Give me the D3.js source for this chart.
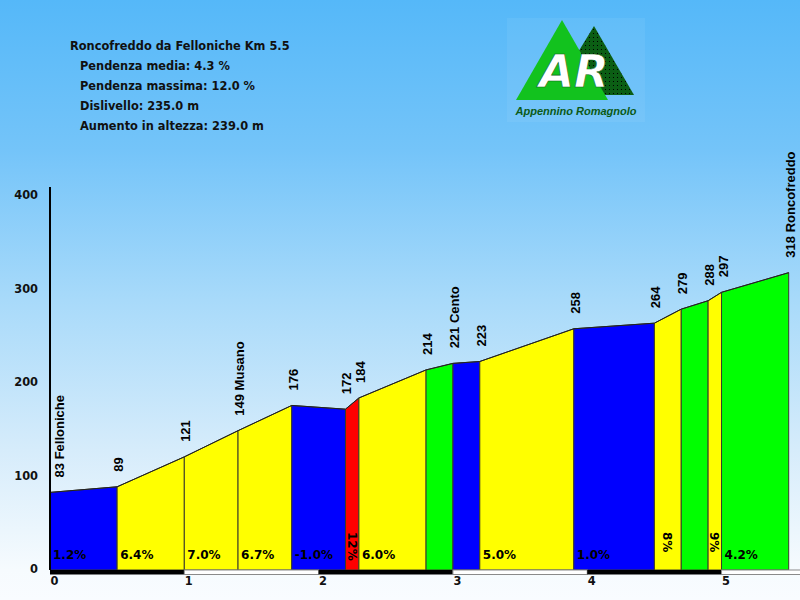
<!DOCTYPE html>
<html>
<head>
<meta charset="utf-8">
<script src="https://cdn.jsdelivr.net/npm/d3@7/dist/d3.min.js"></script>
<style>
html,body{margin:0;padding:0;}
svg{display:block;}
</style>
</head>
<body>
<svg id="chart" width="800" height="600"></svg>
<script>
// ---- data ----
const kmPoints = [0, 0.5, 1.0, 1.4, 1.8, 2.2, 2.3, 2.8, 3.0, 3.2, 3.9, 4.5, 4.7, 4.9, 5.0, 5.5];
const elevations = [83, 89, 121, 149, 176, 172, 184, 214, 221, 223, 258, 264, 279, 288, 297, 318];
const placeNames = ["Felloniche", "", "", "Musano", "", "", "", "", "Cento", "", "", "", "", "", "", "Roncofreddo"];
const segmentColors = ["#0000ff", "#ffff00", "#ffff00", "#ffff00", "#0000ff", "#ff0000", "#ffff00", "#00ff00", "#0000ff", "#ffff00", "#0000ff", "#ffff00", "#00ff00", "#ffff00", "#00ff00"];
const segmentLabels = ["1.2%", "6.4%", "7.0%", "6.7%", "-1.0%", "12%", "6.0%", "", "", "5.0%", "1.0%", "8%", "", "9%", "4.2%"];
const yTicks = [0, 100, 200, 300, 400];
const kmTicks = [0, 1, 2, 3, 4, 5];
const infoLines = [
  "Roncofreddo da Felloniche Km 5.5",
  "Pendenza media: 4.3 %",
  "Pendenza massima: 12.0 %",
  "Dislivello: 235.0 m",
  "Aumento in altezza: 239.0 m"
];
const logoTitle = "AR";
const logoSubtitle = "Appennino Romagnolo";

// ---- drawing ----
const svg = d3.select("#chart");
const W = 800, H = 600;

const defs = svg.append("defs");
const grad = defs.append("linearGradient").attr("id", "bg").attr("x1", 0).attr("y1", 0).attr("x2", 0).attr("y2", 1);
[[0, "#55b8f9"], [0.25, "#74c4f9"], [0.5, "#a8dafa"], [0.75, "#d6ecfb"], [0.95, "#f6fbfe"], [1, "#f9fcff"]]
  .forEach(([o, c]) => grad.append("stop").attr("offset", o).attr("stop-color", c));
svg.append("rect").attr("width", W).attr("height", H).attr("fill", "url(#bg)");

const x = d3.scaleLinear().domain([0, 5.5]).range([50, 788.7]);
const y = d3.scaleLinear().domain([0, 400]).range([570, 196]);
const baseY = y(0);

// logo
const logo = svg.append("g");
logo.append("rect").attr("x", 507).attr("y", 18).attr("width", 138).attr("height", 104)
  .attr("fill", "#ffffff").attr("opacity", 0.06);
const dots = defs.append("pattern").attr("id", "dots").attr("width", 4).attr("height", 4)
  .attr("patternUnits", "userSpaceOnUse");
dots.append("rect").attr("width", 4).attr("height", 4).attr("fill", "#0b5e14");
dots.append("rect").attr("x", 1).attr("y", 1).attr("width", 1).attr("height", 1).attr("fill", "#000000");
logo.append("path").attr("d", "M594,26 L634,95 L552,95 Z").attr("fill", "url(#dots)");
logo.append("path").attr("d", "M562,20 L608,100 L516,100 Z").attr("fill", "#12c21e");
logo.append("text").attr("x", 574).attr("y", 87).attr("text-anchor", "middle")
  .attr("font-family", "DejaVu Sans").attr("font-weight", "bold").attr("font-style", "italic")
  .attr("font-size", 45).attr("fill", "#ffffff").attr("stroke", "#0b5e14").attr("stroke-width", 0.6)
  .text(logoTitle);
logo.append("text").attr("x", 576).attr("y", 115).attr("text-anchor", "middle")
  .attr("font-family", "Liberation Sans").attr("font-weight", "bold").attr("font-style", "italic")
  .attr("font-size", 11).attr("fill", "#0b5a16").text(logoSubtitle);

// info text
svg.append("g").selectAll("text").data(infoLines).join("text")
  .attr("x", (d, i) => i === 0 ? 70 : 80)
  .attr("y", (d, i) => 50 + i * 20)
  .attr("font-family", "DejaVu Sans").attr("font-weight", "bold").attr("font-size", 11.4)
  .attr("fill", "#111").text(d => d);

// segments
const segs = d3.range(kmPoints.length - 1).map(i => ({
  k0: kmPoints[i], k1: kmPoints[i + 1], e0: elevations[i], e1: elevations[i + 1],
  color: segmentColors[i], label: segmentLabels[i]
}));
const segG = svg.append("g");
segG.selectAll("path").data(segs).join("path")
  .attr("d", d => `M${x(d.k0)},${baseY}L${x(d.k0)},${y(d.e0)}L${x(d.k1)},${y(d.e1)}L${x(d.k1)},${baseY}Z`)
  .attr("fill", d => d.color)
  .attr("stroke", "#3a3a2a").attr("stroke-width", 1);

// profile top line
svg.append("path")
  .datum(kmPoints.map((k, i) => [k, elevations[i]]))
  .attr("d", d3.line().x(d => x(d[0])).y(d => y(d[1])))
  .attr("fill", "none").attr("stroke", "#222").attr("stroke-width", 1);

// slope labels
segs.forEach(d => {
  if (!d.label) return;
  const wide = (d.k1 - d.k0) >= 0.3;
  if (wide) {
    svg.append("text").attr("x", x(d.k0) + 3).attr("y", 559)
      .attr("font-family", "DejaVu Sans").attr("font-weight", "bold").attr("font-size", 12)
      .attr("fill", "#000").text(d.label);
  } else {
    const cx = (x(d.k0) + x(d.k1)) / 2;
    svg.append("text").attr("transform", `translate(${cx - 4.5},532) rotate(90)`)
      .attr("font-family", "DejaVu Sans").attr("font-weight", "bold").attr("font-size", 12)
      .attr("fill", "#000").text(d.label);
  }
});

// elevation labels
svg.append("g").selectAll("text").data(kmPoints).join("text")
  .attr("transform", (k, i) => `translate(${x(k) + (i === 0 ? 13.5 : 6)},${y(elevations[i]) - 15}) rotate(-90)`)
  .attr("font-family", "Liberation Sans").attr("font-weight", "bold").attr("font-size", 13)
  .attr("fill", "#000")
  .text((k, i) => elevations[i] + (placeNames[i] ? " " + placeNames[i] : ""));

// y axis
svg.append("line").attr("x1", 50).attr("x2", 50).attr("y1", 187).attr("y2", baseY)
  .attr("stroke", "#000").attr("stroke-width", 2);
const yAxis = svg.append("g").attr("transform", "translate(38,0)")
  .call(d3.axisLeft(y).tickValues(yTicks).tickSize(0).tickPadding(0));
yAxis.select(".domain").remove();
yAxis.selectAll("text").attr("font-family", "DejaVu Sans").attr("font-weight", "bold")
  .attr("font-size", 11.4).attr("fill", "#111").attr("dy", "0.23em");

// km bar
const kmBars = kmTicks.map(k => ({ k0: k, k1: k + 1 }));
svg.append("g").selectAll("rect").data(kmBars).join("rect")
  .attr("x", d => x(d.k0)).attr("y", baseY)
  .attr("width", d => Math.min(x(d.k1), W + 2) - x(d.k0)).attr("height", 4.5)
  .attr("fill", d => d.k0 % 2 === 0 ? "#000" : "#fff")
  .attr("stroke", d => d.k0 % 2 === 0 ? "none" : "#8a8a8a").attr("stroke-width", 1);

// km axis labels
const xAxis = svg.append("g").attr("transform", `translate(0,${baseY})`)
  .call(d3.axisBottom(x).tickValues(kmTicks).tickSize(0).tickPadding(0).tickFormat(d3.format("d")));
xAxis.select(".domain").remove();
xAxis.selectAll("text").attr("text-anchor", "start").attr("y", 15).attr("dy", 0)
  .attr("font-family", "DejaVu Sans").attr("font-weight", "bold").attr("font-size", 11.4).attr("fill", "#111");
</script>
</body>
</html>
